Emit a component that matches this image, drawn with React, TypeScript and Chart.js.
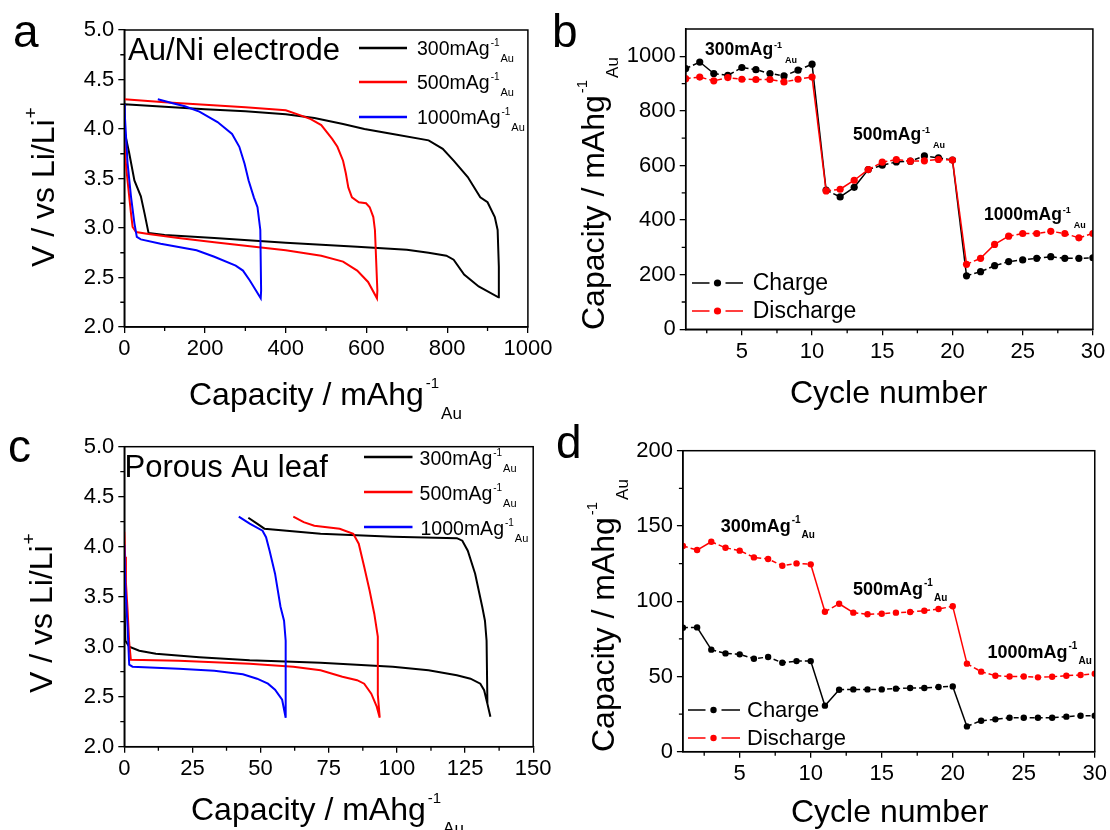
import React, { useEffect, useRef } from 'react';
import { Chart, registerables } from 'chart.js';
Chart.register(...registerables);

const FONT = "'Liberation Sans', Arial, Helvetica, sans-serif";
const PAGE_W = 1110;
const PAGE_H = 830;

// ---------- Panel a : Au/Ni electrode (capacity, voltage) ----------
const aCap300 = [0, 2, 12, 25, 41, 50, 60, 100, 223, 400, 577, 700, 754, 798, 816, 842, 878, 927, 928, 925, 918, 900, 882, 851, 816, 789, 754, 665, 595, 542, 471, 400, 300, 200, 100, 0];
const aV300 = [4.24, 3.95, 3.76, 3.48, 3.32, 3.15, 2.95, 2.93, 2.9, 2.85, 2.81, 2.78, 2.75, 2.72, 2.68, 2.53, 2.41, 2.3, 2.61, 2.98, 3.11, 3.26, 3.31, 3.515, 3.68, 3.8, 3.885, 3.95, 4.0, 4.05, 4.11, 4.15, 4.18, 4.2, 4.225, 4.25];
const aCap500 = [0, 3, 8, 16.5, 20.6, 29, 60, 134, 223, 311, 400, 488, 542, 577, 604, 626, 627, 621, 617, 608, 599, 581, 564, 555, 549, 542, 528, 515, 488, 462, 435, 400, 300, 200, 100, 0];
const aV500 = [3.9, 3.69, 3.48, 3.15, 3.01, 2.96, 2.94, 2.9, 2.855, 2.815, 2.775, 2.72, 2.66, 2.57, 2.455, 2.29, 2.37, 2.98, 3.11, 3.21, 3.25, 3.26, 3.31, 3.41, 3.55, 3.68, 3.82, 3.9, 4.04, 4.1, 4.14, 4.19, 4.22, 4.245, 4.27, 4.3];
const aCap1000 = [0, 1, 8, 16.5, 25, 31, 41, 90, 179, 223, 276, 294, 311, 338, 339, 337, 330, 321, 308, 298, 285, 267, 231, 186, 150, 120, 83];
const aV1000 = [4.25, 4.16, 3.66, 3.32, 3.05, 2.91, 2.885, 2.84, 2.775, 2.71, 2.62, 2.57, 2.47, 2.29, 2.37, 2.98, 3.21, 3.31, 3.48, 3.65, 3.82, 3.95, 4.07, 4.175, 4.23, 4.26, 4.3];

// ---------- Panel c : Porous Au leaf ----------
const cCap300 = [0, 0.4, 1.8, 5.5, 11.6, 27.5, 46, 72, 98.5, 111.6, 122, 127, 130.6, 132, 133.2, 134.3, 133.2, 132.9, 132.3, 131.3, 128.7, 126, 124, 122, 98.5, 72, 51.4, 48.7, 45.5];
const cV300 = [3.45, 3.06, 3.0, 2.96, 2.93, 2.895, 2.865, 2.84, 2.8, 2.765, 2.715, 2.68, 2.63, 2.565, 2.43, 2.3, 2.43, 3.06, 3.26, 3.4, 3.73, 3.96, 4.06, 4.085, 4.1, 4.13, 4.18, 4.23, 4.29];
const cCap500 = [0, 0.3, 0.6, 1.2, 1.8, 2.4, 20, 46, 62, 72, 80, 85.4, 88, 90.6, 92.6, 93.7, 93, 93, 91.7, 90, 88, 86, 84, 79, 69.7, 65.8, 62];
const cV500 = [4.15, 3.9, 3.64, 3.37, 3.04, 2.87, 2.86, 2.83, 2.8, 2.765, 2.7, 2.665, 2.63, 2.53, 2.4, 2.29, 2.52, 3.1, 3.33, 3.56, 3.8, 4.03, 4.13, 4.18, 4.21, 4.245, 4.3];
const cCap1000 = [0, 0.4, 1.2, 1.8, 3, 20, 33, 43.5, 48.7, 52.7, 55.3, 57.9, 59.2, 59.2, 59.2, 58.6, 57.3, 55.3, 53.3, 52, 50.7, 46, 42];
const cV1000 = [4.02, 3.6, 3.2, 2.82, 2.8, 2.78, 2.76, 2.725, 2.68, 2.63, 2.57, 2.47, 2.29, 2.7, 3.06, 3.26, 3.4, 3.73, 3.96, 4.095, 4.16, 4.23, 4.3];

// ---------- Panels b, d : rate capability ----------
const cycles = [1, 2, 3, 4, 5, 6, 7, 8, 9, 10, 11, 12, 13, 14, 15, 16, 17, 18, 19, 20, 21, 22, 23, 24, 25, 26, 27, 28, 29, 30];
const bCharge = [955, 979, 937, 930, 959, 951, 937, 928, 949, 971, 510, 485, 520, 585, 601, 613, 616, 635, 628, 620, 196, 211, 233, 248, 254, 260, 266, 260, 260, 262];
const bDischarge = [918, 924, 910, 922, 916, 915, 915, 906, 916, 924, 507, 513, 546, 585, 612, 622, 616, 617, 622, 620, 238, 260, 311, 341, 351, 351, 359, 351, 335, 351];
const dCharge = [82.4, 82.6, 67.8, 65.3, 64.7, 61.8, 62.9, 59.1, 60.2, 60.2, 30.6, 41.2, 41.4, 41.4, 41.4, 41.9, 42.3, 42.3, 43, 43.4, 16.8, 20.6, 21.5, 22.6, 22.6, 22.6, 22.6, 23.3, 23.9, 23.9];
const dDischarge = [136.7, 134, 139.5, 135.5, 133.6, 129.1, 128, 123.6, 125.1, 124.5, 93, 98.3, 92.4, 91.3, 91.7, 92.4, 92.8, 93.7, 94.8, 96.6, 58.5, 53.2, 50.5, 50, 50, 49.4, 49.8, 50.5, 51, 51.8];

// ---------- ticks ----------
const vTicks = [2.0, 2.5, 3.0, 3.5, 4.0, 4.5, 5.0];
const vMinor = [2.25, 2.75, 3.25, 3.75, 4.25, 4.75];
const aCapTicks = [0, 200, 400, 600, 800, 1000];
const aCapMinor = [100, 300, 500, 700, 900];
const cCapTicks = [0, 25, 50, 75, 100, 125, 150];
const cCapMinor = [12.5, 37.5, 62.5, 87.5, 112.5, 137.5];
const cycleTicks = [5, 10, 15, 20, 25, 30];
const cycleMinor = [2.5, 7.5, 12.5, 17.5, 22.5, 27.5];
const bTicks = [0, 200, 400, 600, 800, 1000];
const bMinor = [100, 300, 500, 700, 900];
const dTicks = [0, 50, 100, 150, 200];
const dMinor = [25, 75, 125, 175];

type Part = { t: string; f: number; b?: boolean; dx?: number; dy?: number };
type Txt = { x: number; y: number; parts: Part[]; rot?: boolean };

const zip = (xs: number[], ys: number[]) => xs.map((x, i) => ({ x, y: ys[i] }));
const mag = (num: string, f: number, supF: number, supDy: number, subF: number, subDy: number, b = false, subDx = 1): Part[] => [
  { t: num + 'mAg', f, b },
  { t: '-1', f: supF, dy: supDy, b, dx: 1 },
  { t: 'Au', f: subF, dy: subDy, b, dx: subDx },
];
const capTitle: Part[] = [
  { t: 'Capacity / mAhg', f: 32 },
  { t: '-1', f: 15, dy: -17, dx: 2 },
  { t: 'Au', f: 17, dy: 14, dx: 2 },
];
const vTitle: Part[] = [
  { t: 'V / vs Li/Li', f: 32 },
  { t: '+', f: 19, dy: -17, dx: 1 },
];

function drawParts(ctx: CanvasRenderingContext2D, txt: Txt) {
  ctx.save();
  ctx.translate(txt.x, txt.y);
  if (txt.rot) ctx.rotate(-Math.PI / 2);
  ctx.fillStyle = '#000';
  ctx.textBaseline = 'alphabetic';
  ctx.textAlign = 'left';
  let cx = 0;
  for (const p of txt.parts) {
    cx += p.dx || 0;
    ctx.font = `${p.b ? 'bold ' : ''}${p.f}px ${FONT}`;
    ctx.fillText(p.t, cx, p.dy || 0);
    cx += ctx.measureText(p.t).width;
  }
  ctx.restore();
}

type LineLeg = { x1: number; x2: number; y: number; color: string };
type DotLeg = { x1: number; x2: number; dot: number; gap: number; y: number; color: string; r: number };

type Panel = {
  L: number; T: number; R: number; B: number;
  xMin: number; xMax: number; yMin: number; yMax: number;
  xTicks: number[]; yTicks: number[]; xMinor: number[]; yMinor: number[];
  yFmt: (v: number) => string;
  datasets: any[];
  texts: Txt[];
  lineLegs?: LineLeg[];
  dotLegs?: DotLeg[];
};

const lineDs = (xs: number[], ys: number[], color: string, order: number) => ({
  data: zip(xs, ys), borderColor: color, backgroundColor: color, showLine: true,
  pointRadius: 0, borderWidth: 2, order, tension: 0,
});
const dotDs = (ys: number[], color: string, order: number, r: number) => ({
  data: zip(cycles, ys), borderColor: color, backgroundColor: color, showLine: true,
  pointRadius: r, pointBorderWidth: 0, pointBackgroundColor: color, borderWidth: 1.5,
  borderDash: [5, 3], order, tension: 0,
  segment: { borderDash: (c: any) => (Math.abs(c.p1.y - c.p0.y) > 8 ? [] : [5, 3]) },
});

const panels: Panel[] = [
  {
    L: 124.3, T: 30, R: 527.9, B: 327,
    xMin: 0, xMax: 1000, yMin: 2, yMax: 5, xTicks: aCapTicks, yTicks: vTicks, xMinor: aCapMinor, yMinor: vMinor,
    yFmt: (v) => v.toFixed(1),
    datasets: [lineDs(aCap300, aV300, '#000000', 2), lineDs(aCap500, aV500, '#ff0000', 1), lineDs(aCap1000, aV1000, '#0000ff', 0)],
    texts: [
      { x: 13, y: 47, parts: [{ t: 'a', f: 46 }] },
      { x: 128, y: 60, parts: [{ t: 'Au/Ni electrode', f: 31 }] },
      { x: 417, y: 55, parts: mag('300', 19.5, 10, -9, 11, 7) },
      { x: 417, y: 89, parts: mag('500', 19.5, 10, -9, 11, 7) },
      { x: 417, y: 124, parts: mag('1000', 19.5, 10, -9, 11, 7) },
      { x: 189, y: 405, parts: capTitle },
      { x: 54, y: 267, rot: true, parts: vTitle },
    ],
    lineLegs: [
      { x1: 359, x2: 407, y: 48, color: '#000000' },
      { x1: 359, x2: 407, y: 82, color: '#ff0000' },
      { x1: 359, x2: 407, y: 117, color: '#0000ff' },
    ],
  },
  {
    L: 685.7, T: 29, R: 1092.9, B: 329.3,
    xMin: 1, xMax: 30, yMin: 0, yMax: 1100, xTicks: cycleTicks, yTicks: bTicks, xMinor: cycleMinor, yMinor: bMinor,
    yFmt: (v) => String(v),
    datasets: [dotDs(bCharge, '#000000', 1, 3.6), dotDs(bDischarge, '#ff0000', 0, 3.6)],
    texts: [
      { x: 552, y: 47, parts: [{ t: 'b', f: 46 }] },
      { x: 705, y: 55, parts: mag('300', 17.5, 9, -7, 9, 8, true, 3) },
      { x: 853, y: 140, parts: mag('500', 17.5, 9, -7, 9, 8, true, 3) },
      { x: 984, y: 220, parts: mag('1000', 17.5, 9, -7, 9, 8, true, 3) },
      { x: 752.7, y: 290, parts: [{ t: 'Charge', f: 23 }] },
      { x: 752.7, y: 318, parts: [{ t: 'Discharge', f: 23 }] },
      { x: 790, y: 403, parts: [{ t: 'Cycle number', f: 32 }] },
      { x: 603.6, y: 330, rot: true, parts: capTitle },
    ],
    dotLegs: [
      { x1: 692, x2: 743, dot: 717.5, gap: 8, y: 283, color: '#000000', r: 3.6 },
      { x1: 692, x2: 743, dot: 717.5, gap: 8, y: 311, color: '#ff0000', r: 3.6 },
    ],
  },
  {
    L: 124.3, T: 446.7, R: 533.2, B: 746.7,
    xMin: 0, xMax: 150, yMin: 2, yMax: 5, xTicks: cCapTicks, yTicks: vTicks, xMinor: cCapMinor, yMinor: vMinor,
    yFmt: (v) => v.toFixed(1),
    datasets: [lineDs(cCap300, cV300, '#000000', 2), lineDs(cCap500, cV500, '#ff0000', 1), lineDs(cCap1000, cV1000, '#0000ff', 0)],
    texts: [
      { x: 8, y: 462, parts: [{ t: 'c', f: 46 }] },
      { x: 124.5, y: 477, parts: [{ t: 'Porous Au leaf', f: 31 }] },
      { x: 419.6, y: 465, parts: mag('300', 19.5, 10, -9, 11, 7) },
      { x: 419.6, y: 500, parts: mag('500', 19.5, 10, -9, 11, 7) },
      { x: 420.5, y: 535, parts: mag('1000', 19.5, 10, -9, 11, 7) },
      { x: 191, y: 820, parts: capTitle },
      { x: 52, y: 693, rot: true, parts: vTitle },
    ],
    lineLegs: [
      { x1: 364, x2: 412.5, y: 457, color: '#000000' },
      { x1: 364, x2: 412.5, y: 492, color: '#ff0000' },
      { x1: 364, x2: 412.5, y: 527, color: '#0000ff' },
    ],
  },
  {
    L: 682.9, T: 450.7, R: 1095.7, B: 751.7,
    xMin: 1, xMax: 30, yMin: 0, yMax: 200, xTicks: cycleTicks, yTicks: dTicks, xMinor: cycleMinor, yMinor: dMinor,
    yFmt: (v) => String(v),
    datasets: [dotDs(dCharge, '#000000', 1, 3.2), dotDs(dDischarge, '#ff0000', 0, 3.2)],
    texts: [
      { x: 556, y: 458, parts: [{ t: 'd', f: 46 }] },
      { x: 720.7, y: 532, parts: mag('300', 18, 10, -9, 10, 6, true, 1) },
      { x: 853, y: 595, parts: mag('500', 18, 10, -9, 10, 6, true, 1) },
      { x: 987.5, y: 658, parts: mag('1000', 18, 10, -9, 10, 6, true, 1) },
      { x: 747, y: 717, parts: [{ t: 'Charge', f: 22 }] },
      { x: 747, y: 745, parts: [{ t: 'Discharge', f: 22 }] },
      { x: 791, y: 822, parts: [{ t: 'Cycle number', f: 32 }] },
      { x: 614, y: 752, rot: true, parts: capTitle },
    ],
    dotLegs: [
      { x1: 688, x2: 740, dot: 713.5, gap: 8, y: 710, color: '#000000', r: 3.2 },
      { x1: 688, x2: 740, dot: 713.5, gap: 8, y: 738, color: '#ff0000', r: 3.2 },
    ],
  },
];

const WY = 60;
const HX = 40;

function buildConfig(p: Panel): any {
  const decor = {
    id: 'decor',
    afterDraw(chart: any) {
      const ctx: CanvasRenderingContext2D = chart.ctx;
      const { left, right, top, bottom } = chart.chartArea;
      const xs = chart.scales.x;
      const ys = chart.scales.y;
      ctx.save();
      ctx.strokeStyle = '#000';
      ctx.lineWidth = 1.3;
      ctx.beginPath();
      for (const v of p.xMinor) {
        const px = xs.getPixelForValue(v);
        ctx.moveTo(px, bottom);
        ctx.lineTo(px, bottom + 4);
      }
      for (const v of p.yMinor) {
        const py = ys.getPixelForValue(v);
        ctx.moveTo(left, py);
        ctx.lineTo(left - 4, py);
      }
      ctx.stroke();
      ctx.lineWidth = 1.5;
      ctx.strokeRect(left, top, right - left, bottom - top);
      for (const l of p.lineLegs || []) {
        ctx.strokeStyle = l.color;
        ctx.lineWidth = 2.5;
        ctx.beginPath();
        ctx.moveTo(l.x1, l.y);
        ctx.lineTo(l.x2, l.y);
        ctx.stroke();
      }
      for (const l of p.dotLegs || []) {
        ctx.strokeStyle = l.color;
        ctx.fillStyle = l.color;
        ctx.lineWidth = 1.5;
        ctx.beginPath();
        ctx.moveTo(l.x1, l.y);
        ctx.lineTo(l.dot - l.gap, l.y);
        ctx.moveTo(l.dot + l.gap, l.y);
        ctx.lineTo(l.x2, l.y);
        ctx.stroke();
        ctx.beginPath();
        ctx.arc(l.dot, l.y, l.r, 0, Math.PI * 2);
        ctx.fill();
      }
      for (const t of p.texts) drawParts(ctx, t);
      ctx.restore();
    },
  };
  const axisCommon = {
    type: 'linear',
    grid: { drawOnChartArea: false, drawTicks: true, tickLength: 6, color: '#000', tickColor: '#000', tickWidth: 1.3, lineWidth: 1.3 },
    border: { display: true, color: '#000', width: 1.5 },
  };
  return {
    type: 'scatter',
    data: { datasets: p.datasets },
    options: {
      animation: false,
      responsive: false,
      devicePixelRatio: 1,
      layout: {
        padding: {
          left: p.L - WY,
          top: p.T,
          right: PAGE_W - p.R,
          bottom: PAGE_H - p.B - HX,
        },
      },
      plugins: { legend: { display: false }, tooltip: { enabled: false }, title: { display: false } },
      scales: {
        x: {
          ...axisCommon,
          min: p.xMin, max: p.xMax,
          afterBuildTicks: (s: any) => { s.ticks = p.xTicks.map((v) => ({ value: v })); },
          afterFit: (s: any) => { s.height = HX; },
          ticks: { color: '#000', font: { family: FONT, size: 22 }, padding: 3, maxRotation: 0, autoSkip: false, callback: (v: any) => String(v) },
        },
        y: {
          ...axisCommon,
          min: p.yMin, max: p.yMax,
          afterBuildTicks: (s: any) => { s.ticks = p.yTicks.map((v) => ({ value: v })); },
          afterFit: (s: any) => { s.width = WY; },
          ticks: { color: '#000', font: { family: FONT, size: 22 }, padding: 4, autoSkip: false, callback: (v: any) => p.yFmt(Number(v)) },
        },
      },
    },
    plugins: [decor],
  };
}

function ChartPanel({ p }: { p: Panel }) {
  const ref = useRef<HTMLCanvasElement | null>(null);
  useEffect(() => {
    if (!ref.current) return;
    const chart = new Chart(ref.current, buildConfig(p));
    return () => chart.destroy();
  }, [p]);
  return (
    <canvas
      ref={ref}
      width={PAGE_W}
      height={PAGE_H}
      style={{ position: 'absolute', left: 0, top: 0, width: PAGE_W, height: PAGE_H }}
    />
  );
}

export default function App() {
  return (
    <div style={{ position: 'absolute', left: 0, top: 0, width: PAGE_W, height: PAGE_H, background: '#ffffff', overflow: 'hidden' }}>
      {panels.map((p, i) => (
        <ChartPanel key={i} p={p} />
      ))}
    </div>
  );
}
